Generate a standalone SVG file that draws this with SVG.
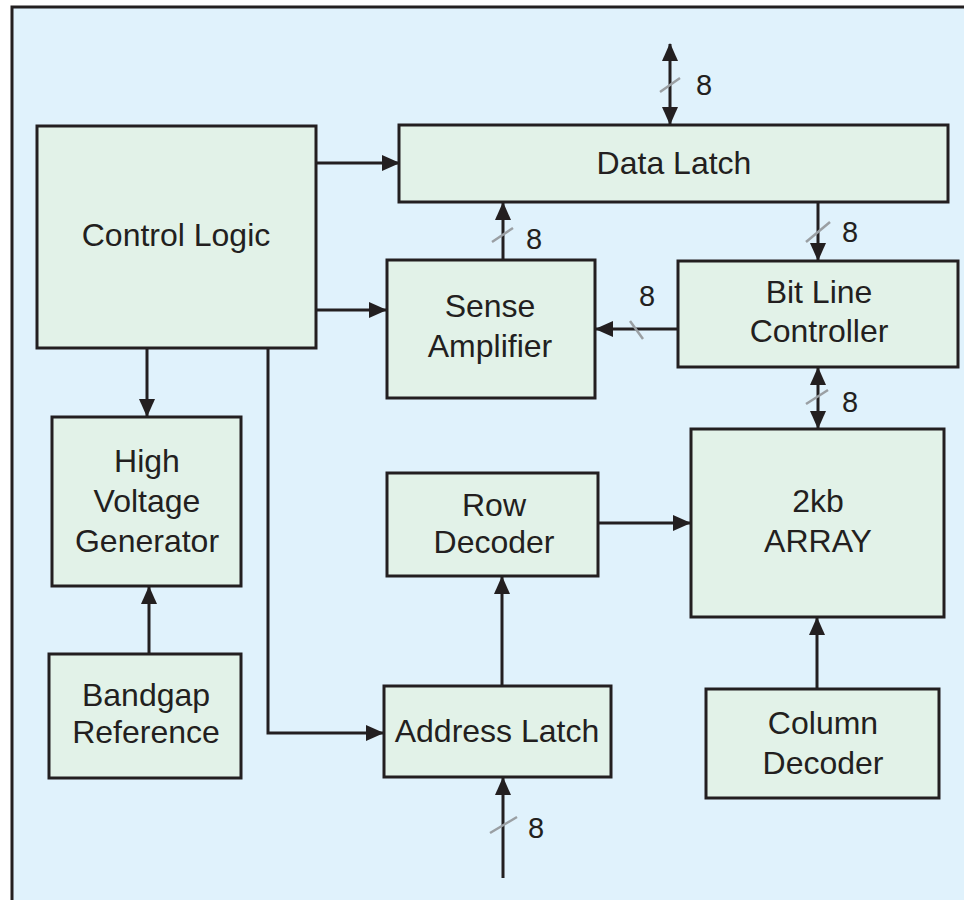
<svg xmlns="http://www.w3.org/2000/svg" width="964" height="900" viewBox="0 0 964 900">
<defs>
<style>
.box{fill:#E2F2E8;stroke:#231F20;stroke-width:3}
.t{font-family:"Liberation Sans",Arial,sans-serif;font-size:32px;fill:#231F20;text-anchor:middle}
.n{font-family:"Liberation Sans",Arial,sans-serif;font-size:29px;fill:#231F20}
.w{fill:none;stroke:#231F20;stroke-width:3}
.s{fill:none;stroke:#9A9FA3;stroke-width:2.5}
</style>
<marker id="ah" markerUnits="userSpaceOnUse" markerWidth="18" markerHeight="16" refX="17" refY="8" orient="auto-start-reverse" viewBox="0 0 18 16">
<path d="M0,0 L18,8 L0,16 z" fill="#231F20"/>
</marker>
</defs>
<rect x="0" y="0" width="964" height="900" fill="#FFFFFF"/>
<rect x="12" y="7" width="1000" height="1000" fill="#E0F2FC" stroke="#231F20" stroke-width="3"/>

<g id="connectors">
<path class="w" d="M670,44 V124" marker-start="url(#ah)" marker-end="url(#ah)"/>
<path class="w" d="M317,163 H399" marker-end="url(#ah)"/>
<path class="w" d="M317,310 H386" marker-end="url(#ah)"/>
<path class="w" d="M147,349 V416" marker-end="url(#ah)"/>
<path class="w" d="M268,349 V733 H383" marker-end="url(#ah)"/>
<path class="w" d="M149,653 V587" marker-end="url(#ah)"/>
<path class="w" d="M503,878 V778" marker-end="url(#ah)"/>
<path class="w" d="M502,685 V577" marker-end="url(#ah)"/>
<path class="w" d="M599,523 H690" marker-end="url(#ah)"/>
<path class="w" d="M817,688 V618" marker-end="url(#ah)"/>
<path class="w" d="M818,368 V428" marker-start="url(#ah)" marker-end="url(#ah)"/>
<path class="w" d="M677,329 H596" marker-end="url(#ah)"/>
<path class="w" d="M503,259 V203" marker-end="url(#ah)"/>
<path class="w" d="M818,203 V260" marker-end="url(#ah)"/>
<path class="s" d="M660,92 L680,78"/>
<path class="s" d="M492,242 L513,228"/>
<path class="s" d="M806,242 L830,222"/>
<path class="s" d="M630,321 L643,339"/>
<path class="s" d="M806,404 L828,390"/>
<path class="s" d="M490,833 L517,817"/>
<text class="n" x="696" y="95">8</text>
<text class="n" x="526" y="249">8</text>
<text class="n" x="842" y="242">8</text>
<text class="n" x="639" y="306">8</text>
<text class="n" x="842" y="412">8</text>
<text class="n" x="528" y="838">8</text>
</g>

<g id="control-logic">
<rect class="box" x="37" y="126" width="279" height="222"/>
<text class="t" x="176" y="246">Control Logic</text>
</g>
<g id="data-latch">
<rect class="box" x="399" y="125" width="549" height="77"/>
<text class="t" x="674" y="174">Data Latch</text>
</g>
<g id="sense-amplifier">
<rect class="box" x="387" y="260" width="208" height="138"/>
<text class="t" x="490" y="317">Sense</text>
<text class="t" x="490" y="357">Amplifier</text>
</g>
<g id="bit-line-controller">
<rect class="box" x="678" y="261" width="280" height="106"/>
<text class="t" x="819" y="303">Bit Line</text>
<text class="t" x="819" y="342">Controller</text>
</g>
<g id="high-voltage-generator">
<rect class="box" x="52" y="417" width="189" height="169"/>
<text class="t" x="147" y="472">High</text>
<text class="t" x="147" y="512">Voltage</text>
<text class="t" x="147" y="552">Generator</text>
</g>
<g id="bandgap-reference">
<rect class="box" x="49" y="654" width="192" height="124"/>
<text class="t" x="146" y="706">Bandgap</text>
<text class="t" x="146" y="743">Reference</text>
</g>
<g id="row-decoder">
<rect class="box" x="387" y="473" width="211" height="103"/>
<text class="t" x="494" y="516">Row</text>
<text class="t" x="494" y="553">Decoder</text>
</g>
<g id="array">
<rect class="box" x="691" y="429" width="253" height="188"/>
<text class="t" x="818" y="512">2kb</text>
<text class="t" x="818" y="552">ARRAY</text>
</g>
<g id="address-latch">
<rect class="box" x="384" y="686" width="227" height="91"/>
<text class="t" x="497" y="742">Address Latch</text>
</g>
<g id="column-decoder">
<rect class="box" x="706" y="689" width="233" height="109"/>
<text class="t" x="823" y="734">Column</text>
<text class="t" x="823" y="774">Decoder</text>
</g>
</svg>
